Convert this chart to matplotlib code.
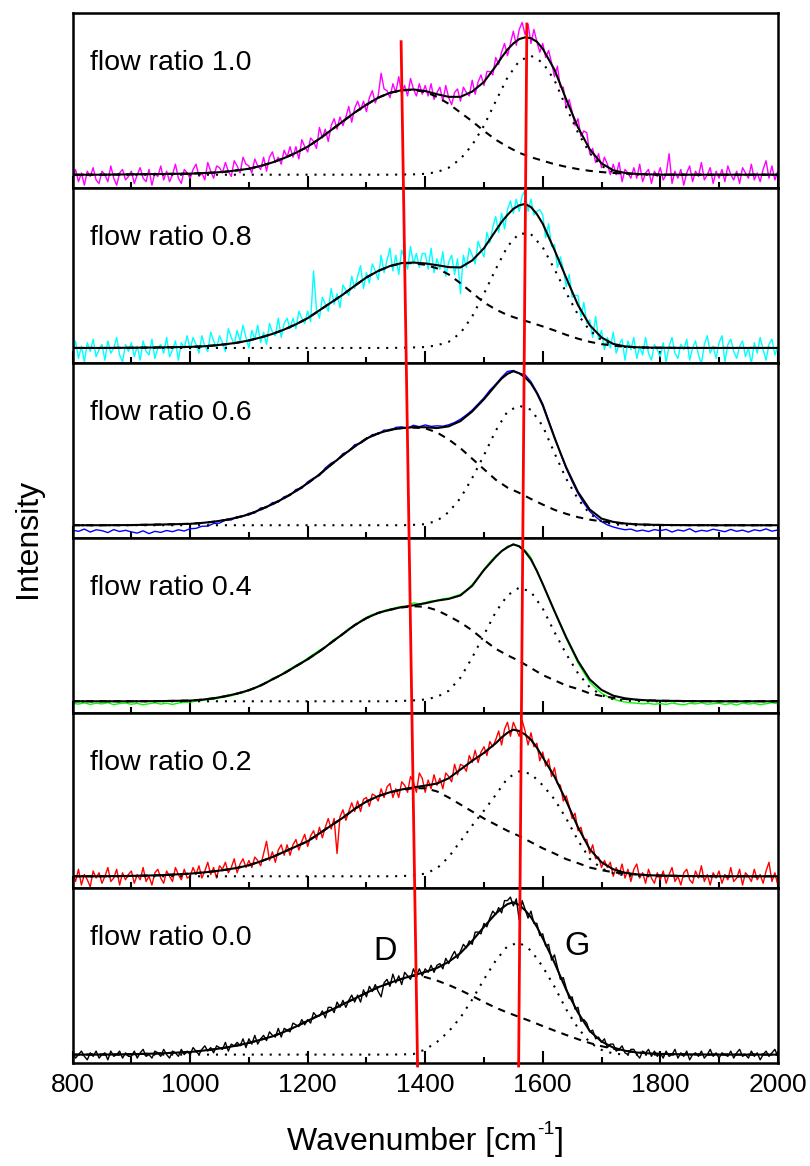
import numpy as np
import matplotlib
matplotlib.use("Agg")
import matplotlib.pyplot as plt
from matplotlib.ticker import MultipleLocator

plt.rcParams['font.family'] = ['Liberation Sans', 'DejaVu Sans']

# ---------------- data ----------------
labels = ["flow ratio 1.0", "flow ratio 0.8", "flow ratio 0.6",
          "flow ratio 0.4", "flow ratio 0.2", "flow ratio 0.0"]
colors = ["#FF00FF", "#00FFFF", "#0000FF", "#00FF00", "#FF0000", "#000000"]

# wavenumber grids of the measured spectra (sampling steps)
wn_fine = np.arange(800, 2001, 5)
wn_coarse = np.arange(800, 2001, 10)
# wavenumber grid of the fitted band curves
wn_band = np.array([800, 850, 900, 950,
                    1000, 1020, 1040, 1060, 1080, 1100, 1120, 1140, 1160, 1180,
                    1200, 1220, 1240, 1260, 1280, 1300, 1320, 1340, 1360, 1380,
                    1400, 1420, 1440, 1460, 1480, 1500, 1520, 1540, 1560, 1580,
                    1600, 1620, 1640, 1660, 1680, 1700, 1720, 1740, 1760, 1780,
                    1800, 1850, 1900, 1950, 2000])
# wavenumber grid of the fitted envelope
wn_env = np.array([800, 850, 900, 950,
                   1000, 1020, 1040, 1060, 1080, 1100, 1120, 1140, 1160, 1180,
                   1200, 1220, 1240, 1260, 1280, 1300, 1320, 1340, 1360, 1380,
                   1400, 1420, 1440, 1460, 1480, 1500, 1520, 1530, 1540, 1550,
                   1560, 1570, 1580, 1590, 1600, 1620, 1640, 1660, 1680, 1700,
                   1720, 1740, 1760, 1780, 1800, 1850, 1900, 1950, 2000])

# measured spectra (intensity, arbitrary units)
spec_10 = [
    -2, 3, -4, 1, -6, 2, -1, 4, -3, -5, 2, 0, -4, 5, -2, -6, 1, 3, -3, -1,
    2, -5, 0, 4, -2, -4, 3, -6, 1, -1, 5, -3, 2, -4, 0, 6, -2, -5, 3, 1,
    -2, 3, 6, -1, 1, -3, 7, 2, -2, 5, 4, 1, 7, 2, -1, 8, 5, 1, 10, 6,
    5, 1, 9, 5, 3, 10, 2, 10, 13, 7, 10, 6, 14, 10, 16, 10, 16, 9, 20, 16,
    13, 21, 19, 15, 27, 21, 26, 19, 28, 32, 26, 33, 28, 33, 39, 30, 38, 42, 37, 42,
    36, 44, 48, 41, 45, 58, 49, 48, 44, 52, 47, 56, 46, 51, 45, 55, 49, 45, 52, 46,
    51, 45, 52, 43, 47, 50, 42, 51, 44, 40, 47, 49, 42, 50, 47, 45, 54, 46, 53, 57,
    51, 59, 59, 57, 67, 63, 70, 75, 68, 75, 82, 74, 83, 87, 80, 86, 75, 83, 76, 70,
    75, 67, 71, 64, 56, 62, 50, 50, 38, 43, 36, 28, 32, 22, 25, 24, 12, 15, 7, 12,
    4, 10, 6, 0, 6, 0, 7, -4, 3, 1, -2, 4, -2, 6, -4, 1, 3, -5, 2, -1,
    4, -3, 0, 12, -5, 2, -2, 3, -6, 1, 5, -4, 2, -1, 7, -3, 0, 4, -5, 2,
    -2, 3, -4, 5, 0, -3, 2, -5, 4, 1, -2, 6, -3, 1, -4, 3, 8, -2, 5, -3, 2]
spec_08 = [
    -3, 4, -6, 1, -8, 3, -2, 5, -5, -1, 2, -7, 4, -3, 0, 6, -4, -8, 2, -2,
    3, -5, 1, -7, 4, -2, -4, 5, -6, 0, 2, -3, 6, -5, -1, 4, -7, 3, 0, 7,
    -1, 6, 2, -3, 7, 1, -2, 9, 4, 0, 7, 3, -2, 11, 6, 2, 10, 4, 13, 6,
    0, 10, 5, 13, 3, 9, 2, 14, 9, 7, 17, 6, 14, 17, 11, 17, 11, 21, 17, 14,
    21, 15, 44, 22, 17, 29, 25, 21, 34, 25, 31, 23, 36, 33, 30, 41, 34, 41, 47, 34,
    43, 37, 48, 44, 39, 53, 43, 50, 57, 44, 53, 42, 56, 51, 45, 58, 48, 54, 46, 54,
    54, 45, 57, 43, 51, 45, 55, 41, 49, 53, 42, 51, 31, 53, 46, 57, 53, 48, 61, 56,
    52, 66, 60, 69, 75, 66, 77, 68, 79, 84, 77, 85, 78, 87, 90, 78, 85, 76, 78, 79,
    76, 63, 71, 58, 59, 46, 52, 45, 35, 42, 29, 30, 30, 18, 26, 14, 16, 6, 18, 5,
    10, -1, 6, 0, 9, -3, 2, 5, -7, 4, -1, 6, -6, 1, -4, 6, -3, -7, 2, -1,
    -5, 3, -8, 1, 6, -3, -6, 2, -1, 5, -7, 0, 4, -4, -9, 2, 7, -3, 1, -6,
    3, 7, -8, 2, 5, -2, -6, 1, 4, -5, 0, -9, 3, -3, 6, -1, -7, 2, 5, -4, 1]
spec_06 = [
    -2.8, -3.5, -2.2, -3.9, -2.6, -3.1, -4.2, -2.5, -3.6, -2.9,
    -3.8, -4.5, -3.2, -4.8, -3.5, -4.1, -3.0, -3.7, -2.6, -3.3,
    -2.0, -1.8, -0.6, -0.5, 1.0, 1.2, 2.9, 3.0, 4.9, 5.0,
    6.8, 7.0, 9.9, 10.1, 12.9, 13.2, 16.3, 17.0, 20.4, 21.1,
    24.8, 26.9, 28.4, 32.7, 35.5, 37.0, 40.9, 42.2, 46.0, 46.8,
    49.2, 51.8, 52.0, 54.4, 54.0, 55.9, 56.2, 55.4, 57.1, 56.3,
    57.3, 56.5, 56.8, 56.6, 57.4, 58.7, 60.6, 63.0, 65.8, 69.3,
    72.8, 77.1, 80.6, 84.5, 87.9, 88.4, 86.9, 86.0, 82.0, 76.1,
    69.4, 59.9, 50.6, 41.1, 32.4, 25.0, 18.1, 12.6, 7.9, 4.8,
    2.1, 0.2, -1.0, -1.9, -2.6, -2.2, -3.4, -2.8, -3.6, -2.5,
    -3.1, -2.4, -3.9, -2.7, -3.3, -2.0, -3.8, -2.9, -3.4, -2.3,
    -3.0, -3.7, -2.4, -3.5, -2.8, -3.9, -2.6, -3.2, -2.1, -3.4, -2.7]
spec_04 = [
    -1.2, -1.6, -0.9, -1.8, -1.1, -1.5, -0.8, -1.9, -1.3, -1.0,
    -1.7, -1.2, -2.0, -1.4, -0.9, -1.6, -1.1, -1.8, -1.0, -0.6,
    -0.5, 0.1, 0.4, 1.0, 1.2, 1.9, 2.6, 3.1, 4.2, 4.8,
    6.7, 7.3, 9.5, 10.6, 13.1, 14.0, 16.5, 18.4, 20.6, 22.3,
    24.6, 26.9, 29.2, 30.7, 34.1, 36.4, 38.2, 41.7, 43.2, 46.0,
    47.9, 49.6, 50.2, 51.9, 52.6, 53.5, 54.2, 54.0, 56.3, 55.6,
    56.4, 57.3, 57.6, 58.6, 58.9, 60.0, 61.1, 63.5, 66.7, 70.9,
    75.4, 79.5, 83.1, 85.7, 88.6, 89.3, 88.9, 86.3, 82.1, 74.6,
    67.4, 59.0, 51.2, 43.4, 35.8, 28.9, 21.9, 16.4, 11.0, 7.7,
    4.6, 2.8, 1.3, 0.2, -0.4, -0.9, -1.1, -1.5, -1.2, -1.7,
    -1.3, -1.8, -1.0, -1.6, -2.0, -1.2, -1.5, -0.9, -1.7, -1.4,
    -1.1, -1.8, -1.3, -2.1, -1.0, -1.6, -1.2, -1.9, -1.4, -0.8, -1.5]
spec_02 = [
    2, -3, 4, -5, 1, -2, -6, 3, -1, 2, -4, 0, 5, -3, -1, 4, -5, 2, -2, 1,
    3, -4, 1, -2, 5, -3, 0, -5, 2, 4, -1, -4, 3, 0, -3, 5, 1, -2, 4, -1,
    0, 5, 1, 6, -1, 3, 8, 1, 5, -1, 6, 4, 8, 2, 5, 10, 2, 7, 10, 5,
    9, 5, 11, 9, 6, 13, 20, 9, 14, 8, 15, 18, 12, 18, 12, 18, 21, 15, 20, 24,
    17, 23, 26, 21, 28, 22, 28, 33, 27, 33, 13, 34, 38, 32, 37, 42, 37, 43, 37, 44,
    45, 40, 47, 46, 43, 50, 45, 51, 53, 45, 50, 45, 54, 52, 48, 57, 54, 48, 59, 56,
    48, 55, 50, 58, 52, 56, 50, 59, 57, 54, 64, 58, 64, 63, 60, 69, 65, 72, 65, 71,
    74, 69, 77, 74, 78, 83, 75, 84, 88, 80, 88, 84, 80, 89, 83, 75, 82, 74, 76, 66,
    71, 63, 67, 57, 62, 53, 52, 43, 46, 40, 33, 36, 26, 28, 21, 21, 13, 18, 10, 11,
    5, 9, 5, 8, 0, 5, 1, 7, -1, 4, -3, 4, 7, -1, 2, -4, 4, -1, -4, 2,
    -2, 3, -4, 1, 5, -3, 0, -5, 2, 4, -2, -4, 3, -1, 6, -3, 1, -5, 2, -1,
    3, -4, 1, -2, 5, -3, -1, 4, -5, 2, 0, -3, 4, -2, 1, -4, 3, 8, -3, 2, -5]
spec_00 = [
    1, -2, 0, 2, -1, -3, 1, -1, 2, -2, 0, 1, -3, 2, -1, 0, 2, -2, 1, -1,
    -1, 2, -2, 1, 3, -1, 0, -2, 2, 1, -1, 3, 0, -2, 2, 1, -1, 3, 0, 2,
    0, 4, 2, 0, 3, 5, 2, 4, 1, 5, 4, 3, 7, 2, 6, 5, 7, 5, 9, 4,
    9, 6, 11, 6, 9, 11, 8, 13, 11, 10, 15, 10, 15, 14, 13, 18, 17, 16, 20, 17,
    20, 18, 24, 22, 22, 25, 21, 27, 27, 24, 30, 27, 31, 27, 31, 34, 30, 34, 30, 37,
    33, 39, 36, 40, 36, 33, 41, 43, 39, 46, 41, 45, 40, 47, 45, 43, 49, 45, 49, 45,
    49, 47, 51, 47, 51, 52, 49, 55, 52, 56, 59, 55, 59, 63, 61, 65, 63, 70, 70, 69,
    75, 73, 78, 82, 80, 84, 81, 88, 88, 90, 85, 89, 77, 88, 83, 78, 82, 75, 75, 68,
    69, 62, 63, 54, 57, 50, 43, 44, 38, 32, 33, 26, 27, 19, 20, 18, 13, 14, 9, 10,
    7, 9, 4, 6, 6, 2, 3, 5, 1, 0, 3, 3, 0, -2, 2, 1, 3, -1, 2, -1,
    1, -2, 2, -1, 0, 3, -2, 1, -1, 2, -3, 0, 1, -1, 2, -2, 0, 3, -1, 1,
    -2, 1, 0, -1, 2, -2, 1, 3, -1, 0, -2, 2, -1, 1, -3, 0, 2, -1, 1, 3, -1]

# fitted envelope (on wn_env), D band and G band (on wn_band)
fit_10 = [0, 0, 0.2, 0.4, 0.6, 0.9, 1.2, 1.7, 2.5, 3.4, 5, 7, 9.5, 12.5, 16, 20.5,
          25.5, 30.5, 35.5, 40, 44, 46.8, 48.3, 48.7, 47.8, 46, 44.5, 44.5, 47.5,
          53, 62, 67, 71.5, 75, 77.5, 78.5, 78, 76, 72, 60, 43, 27, 14.5, 6.5,
          2.5, 1, 0.4, 0.2, 0, 0, 0, 0, 0]
d_10 = [0, 0, 0.2, 0.4, 0.6, 0.9, 1.2, 1.7, 2.5, 3.4, 5, 7, 9.5, 12.5, 16, 20.5,
        25.5, 30.5, 35.5, 40, 44, 46.8, 48.2, 48.5, 47.3, 44.5, 40.5, 35.5, 30.5,
        25, 20, 16, 12.5, 10, 8, 6, 4.5, 3.2, 2.2, 1.5, 1, 0.6, 0.4, 0.2, 0.1,
        0, 0, 0, 0]
g_10 = [0, 0, 0, 0, 0, 0, 0, 0, 0, 0, 0, 0, 0, 0, 0, 0, 0, 0, 0, 0, 0, 0,
        0.1, 0.2, 0.5, 1.5, 4, 9, 17, 28, 42, 55.5, 65, 68, 64, 54, 38.5, 24,
        12.3, 5, 1.5, 0.4, 0.1, 0, 0, 0, 0, 0, 0]

fit_08 = [0, 0, 0.1, 0.3, 0.6, 0.9, 1.4, 2.1, 3, 4.3, 6, 8, 10.5, 13.5, 17, 21.5,
          26, 30.5, 35.5, 40.3, 44, 46.8, 48.5, 48.8, 48.3, 47.3, 46.2, 46, 50,
          57, 67, 72, 76, 79.5, 81.5, 82.3, 80.5, 76.5, 71, 56, 40, 24.5, 13, 6,
          2.3, 0.9, 0.4, 0.2, 0.1, 0, 0, 0, 0]
d_08 = [0, 0, 0.1, 0.3, 0.6, 0.9, 1.4, 2.1, 3, 4.3, 6, 8, 10.5, 13.5, 17, 21.5,
        26, 30.5, 35.5, 40.3, 44, 46.8, 48.4, 48.5, 47.5, 45.5, 42, 37, 31.5, 26,
        22, 18.8, 16.5, 14.5, 12.3, 10, 7.5, 5.3, 3.5, 2.2, 1.3, 0.7, 0.4, 0.2,
        0.1, 0, 0, 0, 0]
g_08 = [0, 0, 0, 0, 0, 0, 0, 0, 0, 0, 0, 0, 0, 0, 0, 0, 0, 0, 0, 0, 0, 0,
        0.1, 0.3, 0.5, 1.5, 3.5, 8.5, 18, 31, 45, 58, 65.5, 65, 57.5, 45, 31.5,
        19, 10, 4.5, 1.7, 0.6, 0.2, 0, 0, 0, 0, 0, 0]

fit_06 = [0, 0, 0.1, 0.4, 0.8, 1.3, 2, 3, 4.4, 6.2, 9, 12, 15.5, 19.5, 24, 29,
          34.6, 40, 45, 49.5, 52.5, 54.5, 55.5, 56, 56, 55.5, 56.5, 59.5, 65, 72,
          80, 83.8, 86.5, 88, 86.8, 84.5, 81, 75.5, 68.5, 50, 33, 19, 9, 3.8,
          1.9, 1, 0.5, 0.3, 0.15, 0.05, 0, 0, 0]
d_06 = [0, 0, 0.1, 0.4, 0.8, 1.3, 2, 3, 4.4, 6.2, 9, 12, 15.5, 19.5, 24, 29,
        34.6, 40, 45, 49.5, 52.5, 54.5, 55.5, 55.8, 55.4, 53, 49, 44, 38, 32, 26,
        21.5, 18.5, 15, 11.8, 8.8, 6.5, 4.6, 3.2, 2.2, 1.4, 0.9, 0.5, 0.3, 0.15,
        0.05, 0, 0, 0]
g_06 = [0, 0, 0, 0, 0, 0, 0, 0, 0, 0, 0, 0, 0, 0, 0, 0, 0, 0, 0, 0, 0, 0, 0,
        0.2, 0.6, 2.5, 7.5, 15.5, 27, 40, 54, 65, 68.3, 66, 56.7, 41.2, 26.5, 15,
        6.5, 2.2, 0.5, 0.1, 0, 0, 0, 0, 0, 0, 0]

fit_04 = [0, 0, 0, 0.1, 0.4, 0.9, 1.7, 2.9, 4.4, 6.3, 9, 12.5, 16, 20, 24, 28.5,
          33.5, 38.5, 43.5, 47.5, 50.5, 52.3, 53.8, 54.8, 56, 57.5, 58.5, 60.5,
          66, 75, 82.5, 85.8, 88, 89.7, 88.5, 85.5, 81, 74.5, 67, 51.5, 36.5, 23,
          12.5, 6.5, 3.2, 1.7, 0.9, 0.5, 0.3, 0.1, 0, 0, 0]
d_04 = [0, 0, 0, 0.1, 0.4, 0.9, 1.7, 2.9, 4.4, 6.3, 9, 12.5, 16, 20, 24, 28.5,
        33.5, 38.5, 43.5, 47.5, 50.5, 52.3, 53.6, 54.3, 54, 52, 48.7, 45, 40.5,
        35, 30, 26.3, 23, 19, 15, 12, 9, 7, 4.5, 3, 2, 1.3, 0.8, 0.5, 0.3, 0.1,
        0, 0, 0]
g_04 = [0, 0, 0, 0, 0, 0, 0, 0, 0, 0, 0, 0, 0, 0, 0, 0, 0, 0, 0, 0, 0, 0,
        0.2, 0.5, 1, 2.5, 6, 13.5, 25, 38, 51, 60.5, 65, 62.5, 53, 39.5, 27, 16,
        8, 3.5, 1.2, 0.4, 0.1, 0, 0, 0, 0, 0, 0]

fit_02 = [0, 0, 0.2, 0.6, 1.5, 2.1, 2.8, 3.7, 4.8, 6.3, 8.5, 11, 14, 17, 20, 24.5,
          29, 33.5, 38.5, 42.7, 45.8, 48, 49.6, 50.8, 51.8, 53, 56, 61, 66, 70.5,
          76, 79.3, 82, 83.8, 83, 81, 78, 73.5, 68, 57, 43, 28, 15.5, 8, 4, 2,
          1.1, 0.6, 0.4, 0.1, 0, 0, 0]
d_02 = [0, 0, 0.2, 0.6, 1.5, 2.1, 2.8, 3.7, 4.8, 6.3, 8.5, 11, 14, 17, 20, 24.5,
        29, 33.5, 38.5, 42.7, 45.8, 48, 49.5, 50.3, 50.3, 48.5, 45, 41, 37, 33,
        29.5, 26, 23, 19.5, 16, 13, 9.8, 7.5, 5, 3.5, 2.3, 1.5, 1, 0.6, 0.4, 0.1,
        0, 0, 0]
g_02 = [0, 0, 0, 0, 0, 0, 0, 0, 0, 0, 0, 0, 0, 0, 0, 0, 0, 0, 0, 0, 0, 0,
        0.1, 0.5, 1.5, 4.5, 11, 20, 29, 37.5, 46.5, 56, 60, 58.5, 52, 44, 33,
        20.5, 10, 4.5, 1.7, 0.5, 0.1, 0, 0, 0, 0, 0, 0]

fit_00 = [0, 0, 0.2, 0.7, 1.5, 2.2, 3, 4, 5.2, 6.7, 8.5, 10.4, 13, 16, 19.3, 22.5,
          25.5, 28.8, 32, 35.3, 38.5, 41, 43.3, 45.3, 47.2, 49.5, 53, 58, 65, 73,
          80.5, 83.5, 86, 87, 85.5, 82.5, 78.5, 73, 66.5, 52.5, 37, 24, 13.5, 7.5,
          4, 2.2, 1.2, 0.7, 0.4, 0.1, 0, 0, 0]
d_00 = [0, 0, 0.2, 0.7, 1.5, 2.2, 3, 4, 5.2, 6.7, 8.5, 10.4, 13, 16, 19.3, 22.5,
        25.5, 28.8, 32, 35.3, 38.5, 41, 43.2, 45, 44.3, 42.3, 39.8, 36.8, 33.5,
        30, 26.8, 24, 21.5, 19, 16.3, 13.7, 11.2, 8.8, 6.6, 4.8, 3.4, 2.2, 1.3,
        0.7, 0.4, 0.1, 0, 0, 0]
g_00 = [0, 0, 0, 0, 0, 0, 0, 0, 0, 0, 0, 0, 0, 0, 0, 0, 0, 0, 0, 0, 0, 0,
        0.1, 0.3, 2.9, 7.2, 13.2, 21.2, 31.5, 43, 53.7, 62, 64, 59.5, 50.2,
        38.8, 25.8, 15.2, 6.9, 2.7, 0.6, 0, 0, 0, 0, 0, 0, 0, 0]

spectra = [spec_10, spec_08, spec_06, spec_04, spec_02, spec_00]
spec_grids = [wn_fine, wn_fine, wn_coarse, wn_coarse, wn_fine, wn_fine]
fits = [fit_10, fit_08, fit_06, fit_04, fit_02, fit_00]
d_bands = [d_10, d_08, d_06, d_04, d_02, d_00]
g_bands = [g_10, g_08, g_06, g_04, g_02, g_00]

# guide lines through the D and G band positions (wavenumber at top, bottom)
d_guide = [1359, 1387]
g_guide = [1573, 1559]

# ---------------- layout ----------------
W, H = 810, 1166
left_px, right_px, top_px, bot_px = 72.6, 777.8, 13, 1063
ph = (bot_px - top_px) / 6
base = [7.6, 8.6, 7.3, 6.7, 6.7, 4.8]   # baseline offset of each panel

fig = plt.figure(figsize=(W / 100, H / 100), dpi=100)

axes = []
for i in range(6):
    rect = [left_px / W, 1 - (top_px + (i + 1) * ph) / H,
            (right_px - left_px) / W, ph / H]
    ax = fig.add_axes(rect)
    axes.append(ax)
    ax.plot(spec_grids[i], spectra[i], color=colors[i], lw=1.0, zorder=2)
    ax.plot(wn_band, g_bands[i], color='black', lw=1.5,
            linestyle=(0, (1, 3.3)), zorder=3)
    ax.plot(wn_band, d_bands[i], color='black', lw=1.5,
            linestyle=(0, (3.5, 3)), zorder=3)
    ax.plot(wn_env, fits[i], color='black', lw=1.5, zorder=4)
    ax.set_xlim(800, 2000)
    ax.set_ylim(-base[i], 100 - base[i])
    ax.set_yticks([])
    ax.xaxis.set_major_locator(MultipleLocator(200))
    ax.xaxis.set_minor_locator(MultipleLocator(100))
    ax.tick_params(axis='x', which='both', direction='in', top=False,
                   bottom=True, labelbottom=(i == 5), labelsize=19,
                   width=1.5, pad=7)
    ax.tick_params(axis='x', which='major', length=8.5)
    ax.tick_params(axis='x', which='minor', length=4.3)
    for sp in ax.spines.values():
        sp.set_linewidth(1.8)
    ax.text(0.025, 0.677, labels[i], transform=ax.transAxes,
            fontsize=20.5, ha='left', va='baseline')

axes[5].text(1332, 59, 'D', fontsize=23.5, ha='center', va='center')
axes[5].text(1659, 62, 'G', fontsize=23.5, ha='center', va='center')

# overlay for guide lines across all panels
ov = fig.add_axes([left_px / W, 1 - bot_px / H, (right_px - left_px) / W,
                   (bot_px - top_px) / H])
ov.set_xlim(800, 2000)
ov.set_ylim(0, 1)
ov.axis('off')
ov.patch.set_visible(False)
y_top_d = (bot_px - 41.7) / (bot_px - top_px)
y_top_g = (bot_px - 24.0) / (bot_px - top_px)
y_bot = (bot_px - 1066) / (bot_px - top_px)
ov.plot(d_guide, [y_top_d, y_bot], color='#FF0000', lw=2.0, clip_on=False)
ov.plot(g_guide, [y_top_g, y_bot], color='#FF0000', lw=2.0, clip_on=False)

fig.text(28 / W, 1 - (top_px + bot_px) / 2 / H, 'Intensity', rotation=90,
         fontsize=23, ha='center', va='center')

# x label assembled from pieces so the superscript keeps a plain hyphen
renderer = fig.canvas.get_renderer()
base_y = 1 - 1150 / H
sup_y = 1 - 1134 / H
t1 = fig.text(0, base_y, 'Wavenumber [cm', fontsize=23, va='baseline')
t2 = fig.text(0, sup_y, '-1', fontsize=14, va='baseline')
t3 = fig.text(0, base_y, ']', fontsize=23, va='baseline')
w1 = t1.get_window_extent(renderer).width
w2 = t2.get_window_extent(renderer).width
w3 = t3.get_window_extent(renderer).width
x0 = (left_px + right_px) / 2 - (w1 + w2 + w3) / 2
t1.set_x(x0 / W)
t2.set_x((x0 + w1) / W)
t3.set_x((x0 + w1 + w2) / W)

fig.savefig('out.png', dpi=100)
